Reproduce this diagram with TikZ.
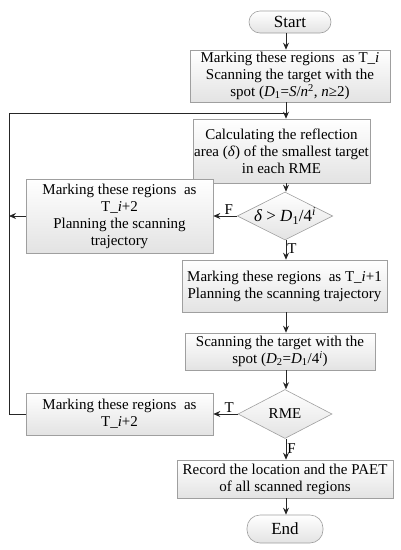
\documentclass[tikz,border=0pt]{standalone}
\usepackage{fontspec}
\setmainfont{Liberation Serif}
\usetikzlibrary{shapes.geometric,arrows.meta,calc}
\begin{document}
\begin{tikzpicture}[x=1pt,y=-1pt,
  every node/.style={font=\fontsize{15}{17}\selectfont},
  procbox/.style={draw=gray!75, line width=0.6pt, top color=white, bottom color=gray!22, align=center, inner sep=1pt, anchor=center},
  pill/.style={procbox, rounded corners=11pt, font=\fontsize{17}{19}\selectfont},
  decision/.style={diamond, aspect=2, draw=gray!75, line width=0.6pt, top color=white, bottom color=gray!22, inner sep=0pt, align=center},
  arr/.style={-{Stealth[length=7pt,width=6pt]}, line width=0.8pt, draw=black!85},
  ln/.style={line width=0.8pt, draw=black!85},
  lbl/.style={font=\fontsize{15}{17}\selectfont, inner sep=1pt}
]
\useasboundingbox (0,0) rectangle (401,550);
\coordinate (col) at (286,0);
\node[pill, minimum width=82pt, minimum height=22pt] (start) at (290,22) {Start};
\node[procbox, minimum width=200pt, minimum height=52pt] (box1) at (290,76)
  {Marking these regions\ \ as T\_\textit{i}\\Scanning the target with the\\spot (\textit{D}\textsubscript{1}=\textit{S}/\textit{n}\textsuperscript{2}, \textit{n}≥2)};
\node[procbox, minimum width=177pt, minimum height=64pt] (box2) at (281.5,151)
  {Calculating the reflection\\area (\textit{δ}) of the smallest target\\in each RME};
\node[decision, minimum width=95pt, minimum height=48pt, font=\fontsize{17}{19}\selectfont] (dia1) at (285,216)
  {\textit{δ} > \textit{D}\textsubscript{1}/4\textsuperscript{\textit{i}}};
\node[procbox, minimum width=187pt, minimum height=74pt] (boxA) at (119.5,216)
  {Marking these regions\ \ as\\T\_\textit{i}+2\\Planning the scanning\\trajectory};
\node[procbox, minimum width=205pt, minimum height=52pt] (box3) at (284.5,286)
  {Marking these regions\ \ as T\_\textit{i}+1\\Planning the scanning trajectory};
\node[procbox, minimum width=190pt, minimum height=37pt] (box4) at (280,351.5)
  {Scanning the target with the\\spot (\textit{D}\textsubscript{2}=\textit{D}\textsubscript{1}/4\textsuperscript{\textit{i}})};
\node[decision, minimum width=94pt, minimum height=49pt] (dia2) at (285,414) {RME};
\node[procbox, minimum width=187pt, minimum height=42pt] (boxB) at (119.5,414)
  {Marking these regions\ \ as\\T\_\textit{i}+2};
\node[procbox, minimum width=216pt, minimum height=38pt] (box5) at (285,479)
  {Record the location and the PAET\\of all scanned regions};
\node[pill, minimum width=76pt, minimum height=28pt, rounded corners=13pt] (end) at (285,529) {End};
\coordinate (join) at (286,113);
\coordinate (lx) at (9,0);
% main column
\draw[arr] (start.south -| col) -- (box1.north -| col);
\draw[arr] (box1.south -| col) -- (box2.north -| col);
\draw[arr] (box2.south -| col) -- (dia1.north -| col);
\draw[arr] (dia1.south -| col) -- node[lbl, right, pos=0.45] {T} (box3.north -| col);
\draw[arr] (box3.south -| col) -- (box4.north -| col);
\draw[arr] (box4.south -| col) -- (dia2.north -| col);
\draw[arr] (dia2.south -| col) -- node[lbl, right, pos=0.45] {F} (box5.north -| col);
\draw[arr] (box5.south -| col) -- (end.north -| col);
% branches
\draw[arr] (dia1.west) -- node[lbl, above, pos=0.35] {F} (boxA.east);
\draw[arr] (dia2.west) -- node[lbl, above, pos=0.35] {T} (boxB.east);
% loop
\draw[ln] (boxB.west) -- (boxB.west -| lx) -- (join -| lx) -- (join);
\draw[arr] (boxA.west) -- (boxA.west -| lx);
\end{tikzpicture}
\end{document}
